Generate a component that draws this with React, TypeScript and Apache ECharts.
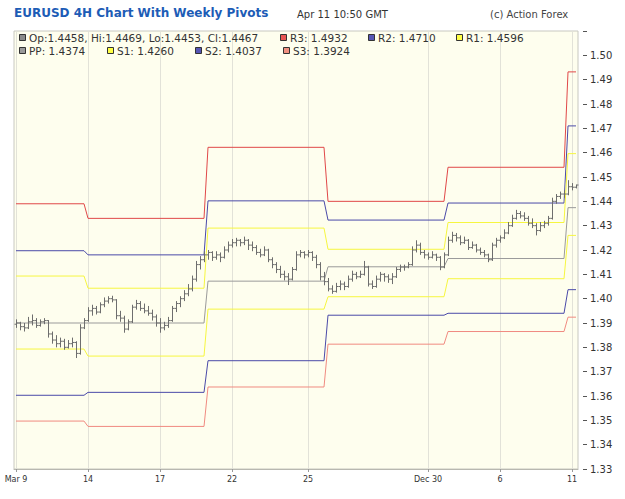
import React, { useEffect, useRef } from "react";
import * as echarts from "echarts";

// OHLC per 4H bar: [open, high, low, close]
const ohlc: number[][] = [
  [1.3895, 1.3915, 1.388, 1.39], [1.39, 1.3905, 1.387, 1.3885], [1.3885, 1.39, 1.3865, 1.388], [1.388, 1.3925, 1.3875, 1.3905],
  [1.3905, 1.3935, 1.389, 1.391], [1.391, 1.392, 1.388, 1.389], [1.389, 1.3915, 1.3885, 1.3905], [1.3905, 1.392, 1.3895, 1.391],
  [1.391, 1.3912, 1.384, 1.3855], [1.3855, 1.3865, 1.3815, 1.383], [1.383, 1.385, 1.38, 1.3815], [1.3815, 1.384, 1.38, 1.3825],
  [1.3825, 1.3835, 1.379, 1.38], [1.38, 1.383, 1.3795, 1.3815], [1.3815, 1.384, 1.38, 1.382], [1.382, 1.3825, 1.3756, 1.3775],
  [1.3775, 1.3895, 1.377, 1.388], [1.388, 1.392, 1.3875, 1.391],
  [1.391, 1.3965, 1.3905, 1.395], [1.395, 1.3975, 1.393, 1.396], [1.396, 1.397, 1.3935, 1.3945], [1.3945, 1.3985, 1.394, 1.3975],
  [1.3975, 1.4005, 1.3965, 1.399], [1.399, 1.401, 1.398, 1.4], [1.4, 1.4012, 1.3985, 1.3995], [1.3995, 1.3998, 1.3915, 1.393],
  [1.393, 1.395, 1.3905, 1.392], [1.392, 1.393, 1.386, 1.3875], [1.3875, 1.3915, 1.387, 1.3905], [1.3905, 1.3975, 1.39, 1.3965],
  [1.3965, 1.3995, 1.3955, 1.398], [1.398, 1.399, 1.395, 1.396], [1.396, 1.398, 1.394, 1.395], [1.395, 1.397, 1.393, 1.394],
  [1.394, 1.3955, 1.391, 1.3925], [1.3925, 1.3935, 1.3885, 1.39], [1.39, 1.392, 1.386, 1.388], [1.388, 1.3905, 1.387, 1.389],
  [1.389, 1.3925, 1.388, 1.391], [1.391, 1.397, 1.3905, 1.396], [1.396, 1.399, 1.3945, 1.398], [1.398, 1.401, 1.3965, 1.4],
  [1.4, 1.4035, 1.399, 1.402], [1.402, 1.406, 1.401, 1.404], [1.404, 1.4095, 1.403, 1.408], [1.408, 1.4155, 1.407, 1.414],
  [1.414, 1.4175, 1.412, 1.416], [1.416, 1.4195, 1.415, 1.418],
  [1.418, 1.42, 1.416, 1.419], [1.419, 1.4195, 1.4155, 1.417], [1.417, 1.4195, 1.416, 1.418], [1.418, 1.419, 1.415, 1.417],
  [1.417, 1.4215, 1.4165, 1.42], [1.42, 1.4235, 1.419, 1.422], [1.422, 1.4245, 1.421, 1.423], [1.423, 1.425, 1.4215, 1.424],
  [1.424, 1.4245, 1.4215, 1.423], [1.423, 1.4255, 1.422, 1.424], [1.424, 1.4245, 1.42, 1.422], [1.422, 1.4235, 1.4195, 1.421],
  [1.421, 1.422, 1.418, 1.419], [1.419, 1.4205, 1.417, 1.418], [1.418, 1.4215, 1.4175, 1.42], [1.42, 1.4205, 1.415, 1.416],
  [1.416, 1.417, 1.4125, 1.414], [1.414, 1.415, 1.4105, 1.412], [1.412, 1.4135, 1.4085, 1.41], [1.41, 1.4115, 1.4075, 1.409],
  [1.409, 1.4105, 1.4056, 1.408], [1.408, 1.413, 1.4075, 1.412], [1.412, 1.4195, 1.4115, 1.418], [1.418, 1.42, 1.417, 1.419],
  [1.419, 1.4195, 1.4165, 1.418], [1.418, 1.42, 1.417, 1.419], [1.419, 1.4195, 1.4155, 1.417], [1.417, 1.418, 1.4125, 1.414],
  [1.414, 1.415, 1.4075, 1.409], [1.409, 1.411, 1.4055, 1.407],
  [1.407, 1.4085, 1.403, 1.404], [1.404, 1.4055, 1.402, 1.403], [1.403, 1.4065, 1.4025, 1.405], [1.405, 1.4075, 1.4035, 1.406],
  [1.406, 1.407, 1.4035, 1.405], [1.405, 1.4095, 1.4045, 1.408], [1.408, 1.4115, 1.407, 1.41], [1.41, 1.411, 1.408, 1.409],
  [1.409, 1.4115, 1.4085, 1.41], [1.41, 1.4155, 1.4095, 1.413], [1.413, 1.4135, 1.405, 1.406], [1.406, 1.4075, 1.404, 1.405],
  [1.405, 1.4095, 1.4045, 1.408], [1.408, 1.411, 1.407, 1.41], [1.41, 1.4105, 1.407, 1.409], [1.409, 1.41, 1.4065, 1.408],
  [1.408, 1.4105, 1.406, 1.409], [1.409, 1.413, 1.4085, 1.412], [1.412, 1.414, 1.411, 1.413], [1.413, 1.414, 1.4115, 1.413],
  [1.413, 1.415, 1.4125, 1.414], [1.414, 1.4215, 1.4135, 1.42], [1.42, 1.424, 1.419, 1.422], [1.422, 1.423, 1.418, 1.419],
  [1.419, 1.42, 1.4165, 1.418], [1.418, 1.419, 1.416, 1.417], [1.417, 1.4195, 1.4165, 1.418], [1.418, 1.4185, 1.4155, 1.417],
  [1.417, 1.4175, 1.4117, 1.413], [1.413, 1.419, 1.4125, 1.418],
  [1.418, 1.4255, 1.4175, 1.424], [1.424, 1.4275, 1.423, 1.426], [1.426, 1.427, 1.4235, 1.425], [1.425, 1.426, 1.422, 1.423],
  [1.423, 1.4255, 1.4225, 1.424], [1.424, 1.4245, 1.42, 1.421], [1.421, 1.4235, 1.4205, 1.422], [1.422, 1.4225, 1.419, 1.42],
  [1.42, 1.421, 1.418, 1.419], [1.419, 1.42, 1.417, 1.418], [1.418, 1.4185, 1.415, 1.416], [1.416, 1.423, 1.4155, 1.422],
  [1.422, 1.425, 1.421, 1.424], [1.424, 1.426, 1.423, 1.425], [1.425, 1.4285, 1.4245, 1.427], [1.427, 1.4315, 1.4265, 1.43],
  [1.43, 1.4345, 1.4295, 1.433], [1.433, 1.4365, 1.4325, 1.435], [1.435, 1.436, 1.433, 1.434], [1.434, 1.4355, 1.432, 1.433],
  [1.433, 1.434, 1.43, 1.431], [1.431, 1.433, 1.429, 1.43], [1.43, 1.431, 1.426, 1.428], [1.428, 1.4315, 1.4275, 1.43],
  [1.43, 1.432, 1.429, 1.431], [1.431, 1.434, 1.43, 1.433], [1.433, 1.4415, 1.4325, 1.44], [1.44, 1.443, 1.439, 1.442],
  [1.442, 1.444, 1.441, 1.443], [1.443, 1.4445, 1.4415, 1.443],
  [1.443, 1.4487, 1.4425, 1.446], [1.446, 1.4475, 1.4445, 1.4458], [1.4458, 1.4469, 1.4453, 1.4467],
];

// bars in each week (weekly pivots change at week boundaries)
const weekBars = [18, 30, 30, 30, 30, 3];
// weekly pivot levels, one per week
const R3 = [1.439, 1.433, 1.4622, 1.44, 1.454, 1.4932];
const R2 = [1.4197, 1.418, 1.4402, 1.4323, 1.4393, 1.471];
const R1 = [1.4093, 1.4043, 1.429, 1.4203, 1.4313, 1.4596];
const PP = [1.39, 1.39, 1.4072, 1.4131, 1.4165, 1.4374];
const S1 = [1.3793, 1.3764, 1.3957, 1.4008, 1.4082, 1.426];
const S2 = [1.3603, 1.3615, 1.3745, 1.3932, 1.394, 1.4037];
const S3 = [1.3497, 1.3475, 1.3637, 1.3813, 1.3865, 1.3924];

// x-axis labels at bar indices
const xLabelIdx = [0, 18, 36, 54, 73, 103, 121, 139];
const xLabelText = ["Mar 9", "14", "17", "22", "25", "Dec 30", "6", "11"];

const FONT = "DejaVu Sans";

function expand(levels: number[]): number[] {
  const out: number[] = [];
  weekBars.forEach((n, w) => {
    for (let k = 0; k < n; k++) out.push(levels[w]);
  });
  return out;
}

export default function App() {
  const ref = useRef<HTMLDivElement>(null);
  useEffect(() => {
    if (!ref.current) return;
    const chart = echarts.init(ref.current, null, { renderer: "svg" });
    const cats = ohlc.map((_, i) => String(i));
    const isLbl = (idx: number) => xLabelIdx.indexOf(idx) >= 0;
    const pivotSeries = [
      { name: "R3", data: R3, color: "#e04848" },
      { name: "R2", data: R2, color: "#4a4aa8" },
      { name: "R1", data: R1, color: "#f6f640" },
      { name: "PP", data: PP, color: "#9a9a9a" },
      { name: "S1", data: S1, color: "#f6f640" },
      { name: "S2", data: S2, color: "#4a4aa8" },
      { name: "S3", data: S3, color: "#f08a80" },
    ].map((p) => ({
      type: "line",
      name: p.name,
      data: expand(p.data),
      symbol: "none",
      silent: true,
      z: 2,
      lineStyle: { color: p.color, width: 1 },
    }));

    const last = ohlc[ohlc.length - 1];
    const f4 = (v: number) => v.toFixed(4);
    const legendItems = [
      { x: 19, y: 38, c: "#8a8a8a", t: `Op:${f4(last[0])}, Hi:${f4(last[1])}, Lo:${f4(last[2])}, Cl:${f4(last[3])}` },
      { x: 280, y: 38, c: "#e85454", t: `R3: ${f4(R3[5])}` },
      { x: 368, y: 38, c: "#5656b4", t: `R2: ${f4(R2[5])}` },
      { x: 456, y: 38, c: "#ffff44", t: `R1: ${f4(R1[5])}` },
      { x: 19, y: 51, c: "#9a9a9a", t: `PP: ${f4(PP[5])}` },
      { x: 107, y: 51, c: "#ffff44", t: `S1: ${f4(S1[5])}` },
      { x: 195, y: 51, c: "#5656b4", t: `S2: ${f4(S2[5])}` },
      { x: 283, y: 51, c: "#f09080", t: `S3: ${f4(S3[5])}` },
    ];
    const graphics: any[] = [
      {
        type: "text", left: 14, top: 7,
        style: { text: "EURUSD 4H Chart With Weekly Pivots", font: `bold 12px '${FONT}'`, fill: "#1d5cb6" },
      },
      {
        type: "text", left: 297, top: 9,
        style: { text: "Apr 11 10:50 GMT", font: `10px '${FONT}'`, fill: "#333" },
      },
      {
        type: "text", left: 490, top: 9,
        style: { text: "(c) Action Forex", font: `10px '${FONT}'`, fill: "#444" },
      },
    ];
    legendItems.forEach((it) => {
      graphics.push({
        type: "rect", z: 10,
        shape: { x: it.x + 0.5, y: it.y - 3.5, width: 6, height: 6 },
        style: { fill: it.c, stroke: "#333", lineWidth: 1 },
      });
      graphics.push({
        type: "text", z: 10, x: it.x + 10, y: it.y,
        style: { text: it.t, font: `10.5px '${FONT}'`, fill: "#333", verticalAlign: "middle" },
      });
    });

    chart.setOption({
      animation: false,
      backgroundColor: "#ffffff",
      grid: {
        left: 14, top: 31, width: 564, height: 438,
        show: true, backgroundColor: "#fefeee", borderColor: "#c8c8c0", borderWidth: 1,
      },
      xAxis: {
        type: "category",
        data: cats,
        boundaryGap: true,
        axisLine: { show: true, lineStyle: { color: "#b8b8b0" } },
        axisTick: { show: true, alignWithLabel: true, interval: (i: number) => isLbl(i), length: 3, lineStyle: { color: "#999" } },
        axisLabel: {
          interval: (i: number) => isLbl(i),
          formatter: (_v: string, i: number) => xLabelText[xLabelIdx.indexOf(i)] ?? "",
          fontSize: 8, fontFamily: FONT, color: "#333", margin: 6,
        },
        splitLine: { show: true, alignWithLabel: true, interval: (i: number) => isLbl(i), lineStyle: { color: "#e2e2d8", width: 1 } },
      },
      yAxis: {
        type: "value",
        position: "right",
        min: 1.33, max: 1.51, interval: 0.01,
        offset: 9,
        axisLine: { show: false },
        axisTick: { show: true, inside: true, length: 4, lineStyle: { color: "#555" } },
        axisLabel: {
          formatter: (v: number) => (v > 1.505 ? "" : v.toFixed(2)),
          fontSize: 10, fontFamily: FONT, color: "#333", margin: 3,
        },
        splitLine: { show: false },
      },
      graphic: graphics,
      series: [
        ...pivotSeries,
        {
          type: "custom",
          name: "EURUSD",
          z: 3,
          silent: true,
          data: ohlc.map((d, i) => [i, d[0], d[1], d[2], d[3]]),
          encode: { x: 0, y: [1, 2, 3, 4] },
          renderItem: (_p: any, api: any) => {
            const i = api.value(0);
            const po = api.coord([i, api.value(1)]);
            const ph = api.coord([i, api.value(2)]);
            const pl = api.coord([i, api.value(3)]);
            const pc = api.coord([i, api.value(4)]);
            const x = Math.round(po[0]) + 0.5;
            const st = { stroke: "#6e6e6e", lineWidth: 1 };
            return {
              type: "group",
              children: [
                { type: "line", shape: { x1: x, y1: ph[1], x2: x, y2: pl[1] }, style: st },
                { type: "line", shape: { x1: x - 2, y1: po[1], x2: x, y2: po[1] }, style: st },
                { type: "line", shape: { x1: x, y1: pc[1], x2: x + 2, y2: pc[1] }, style: st },
              ],
            };
          },
        },
      ],
    });
    return () => chart.dispose();
  }, []);
  return (
    <div
      ref={ref}
      style={{ position: "fixed", left: 0, top: 0, width: 625, height: 499, background: "#fff" }}
    />
  );
}
